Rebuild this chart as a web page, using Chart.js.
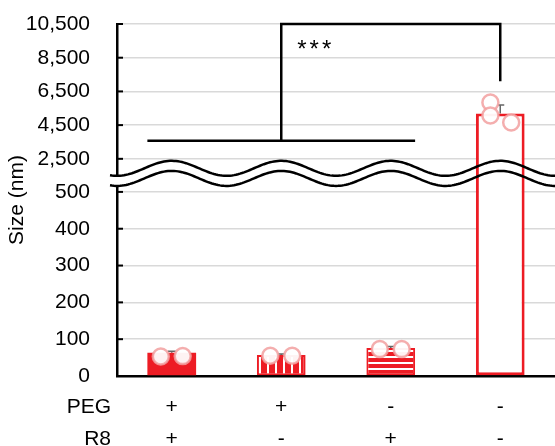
<!DOCTYPE html>
<html>
<head>
<meta charset="utf-8">
<script src="https://cdn.jsdelivr.net/npm/chart.js@4/dist/chart.umd.min.js"></script>
<style>
  html, body { margin: 0; padding: 0; background: #fff; }
  #wrap { width: 555px; height: 446px; }
</style>
</head>
<body>
<div id="wrap"><canvas id="sizeChart"></canvas></div>
<script>
// PEG / R8 combination for each group
const groups = [['+', '+'], ['+', '-'], ['-', '+'], ['-', '-']];
const rowNames = ['PEG', 'R8'];
const meanSize = [63, 57, 76, 5190];
const sdSize = [4, 3, 4, 500];
const replicates = [[53, 54], [55, 55], [73, 73], [5840, 5070, 4650]];
const lowTicks = [0, 100, 200, 300, 400, 500];
const highTicks = [2500, 4500, 6500, 8500, 10500];
const stars = '***';

const FONT = '"Liberation Sans", Arial, sans-serif';
const RED = '#ed1c24';
const PINK = 'rgba(242,160,160,0.85)';
const X_PAD = 15;
const ROW_H = 32;

// y axis with a break between 500 and 2500
const BREAK_LOW = 500, BREAK_HIGH = 2500, TOP = 10500;
const share = [0.523, 0.094, 0.383]; // low part, gap, high part

class BrokenScale extends Chart.LinearScale {
  static id = 'broken';
  static defaults = Chart.LinearScale.defaults;
  buildTicks() {
    return lowTicks.concat(highTicks).map(v => ({ value: v }));
  }
  toDecimal(v) {
    if (v <= BREAK_LOW) return v / BREAK_LOW * share[0];
    if (v <= BREAK_HIGH) return share[0] + (v - BREAK_LOW) / (BREAK_HIGH - BREAK_LOW) * share[1];
    return share[0] + share[1] + (v - BREAK_HIGH) / (TOP - BREAK_HIGH) * share[2];
  }
  getPixelForValue(v) {
    if (v === null || v === undefined || isNaN(v)) return NaN;
    return this.getPixelForDecimal(this.toDecimal(v));
  }
  getValueForPixel(p) {
    const d = this.getDecimalForPixel(p);
    if (d <= share[0]) return d / share[0] * BREAK_LOW;
    if (d <= share[0] + share[1]) return BREAK_LOW + (d - share[0]) / share[1] * (BREAK_HIGH - BREAK_LOW);
    return BREAK_HIGH + (d - share[0] - share[1]) / share[2] * (TOP - BREAK_HIGH);
  }
}
Chart.register(BrokenScale);

function stripes(vertical) {
  const c = document.createElement('canvas');
  c.width = vertical ? 8 : 1;
  c.height = vertical ? 1 : 6;
  const g = c.getContext('2d');
  g.fillStyle = RED;
  g.fillRect(0, 0, c.width, c.height);
  g.fillStyle = '#fff';
  if (vertical) g.fillRect(3, 0, 2, 1); else g.fillRect(0, 2, 1, 2);
  return g.createPattern(c, 'repeat');
}

const jitter = { 2: [-0.1, 0.1], 3: [-0.09, -0.09, 0.1] };
const dots = [];
replicates.forEach((vals, i) => {
  vals.forEach((v, j) => dots.push({ x: i + jitter[vals.length][j], y: v }));
});

function waves(chart) {
  const a = chart.chartArea, y = chart.scales.y, x = chart.scales.x;
  const yHi = y.getPixelForValue(BREAK_HIGH), yLo = y.getPixelForValue(BREAK_LOW);
  const period = x.getPixelForValue(1) - x.getPixelForValue(0);
  const x0 = x.getPixelForValue(0);
  const upper = [], lower = [];
  for (let px = a.left - 7; px <= a.right + 1; px += 2) {
    const s = -Math.cos((px - x0) / period * 2 * Math.PI) * 7.5;
    upper.push([px, yHi + 9.5 + s]);
    lower.push([px, yLo - 13.5 + s]);
  }
  return { upper, lower };
}

const extras = {
  id: 'extras',
  beforeDatasetsDraw(chart) {
    const { ctx, chartArea: a } = chart;
    const y = chart.scales.y, x = chart.scales.x;
    ctx.save();
    // inner tick marks
    ctx.strokeStyle = '#000';
    ctx.lineWidth = 2;
    y.ticks.forEach(t => {
      const py = y.getPixelForValue(t.value);
      ctx.beginPath(); ctx.moveTo(a.left, py); ctx.lineTo(a.left + 6, py); ctx.stroke();
    });
    // error bars
    ctx.strokeStyle = '#666';
    ctx.lineWidth = 1.5;
    meanSize.forEach((m, i) => {
      const px = x.getPixelForValue(i);
      const p0 = y.getPixelForValue(m), p1 = y.getPixelForValue(m + sdSize[i]);
      ctx.beginPath();
      ctx.moveTo(px, p0); ctx.lineTo(px, p1);
      ctx.moveTo(px - 4, p1); ctx.lineTo(px + 4, p1);
      ctx.stroke();
    });
    // white band of the break
    const w = waves(chart);
    ctx.fillStyle = '#fff';
    ctx.beginPath();
    w.upper.forEach((p, k) => k ? ctx.lineTo(p[0], p[1]) : ctx.moveTo(p[0], p[1]));
    w.lower.slice().reverse().forEach(p => ctx.lineTo(p[0], p[1]));
    ctx.closePath();
    ctx.fill();
    ctx.restore();
  },
  afterDatasetsDraw(chart) {
    const { ctx } = chart;
    const w = waves(chart);
    ctx.save();
    ctx.strokeStyle = '#000';
    ctx.lineWidth = 2.5;
    [w.upper, w.lower].forEach(line => {
      ctx.beginPath();
      line.forEach((p, k) => k ? ctx.lineTo(p[0], p[1]) : ctx.moveTo(p[0], p[1]));
      ctx.stroke();
    });
    ctx.restore();
  },
  afterDraw(chart) {
    const { ctx } = chart;
    const y = chart.scales.y, x = chart.scales.x;
    const half = chart.getDatasetMeta(0).data[0].width / 2;
    const low = y.getPixelForValue(3575), top = y.getPixelForValue(10500), end = y.getPixelForValue(7100);
    ctx.save();
    ctx.strokeStyle = '#000';
    ctx.lineWidth = 2.5;
    ctx.beginPath();
    ctx.moveTo(x.getPixelForValue(0) - half, low);
    ctx.lineTo(x.getPixelForValue(2) + half, low);
    ctx.moveTo(x.getPixelForValue(1), low);
    ctx.lineTo(x.getPixelForValue(1), top);
    ctx.lineTo(x.getPixelForValue(3), top);
    ctx.lineTo(x.getPixelForValue(3), end);
    ctx.stroke();
    ctx.fillStyle = '#000';
    ctx.font = '24px ' + FONT;
    ctx.letterSpacing = '3px';
    ctx.textBaseline = 'alphabetic';
    ctx.fillText(stars, x.getPixelForValue(1) + 16, y.getPixelForValue(8530));
    // row names under the axis
    ctx.letterSpacing = '0px';
    ctx.font = '21px ' + FONT;
    ctx.textAlign = 'right';
    ctx.textBaseline = 'middle';
    rowNames.forEach((n, i) => ctx.fillText(n, 111, x.top + X_PAD + ROW_H * (i + 0.5)));
    ctx.restore();
  }
};

new Chart(document.getElementById('sizeChart'), {
  type: 'bar',
  data: {
    labels: groups,
    datasets: [{
      data: meanSize,
      xAxisID: 'x',
      yAxisID: 'y',
      order: 2,
      grouped: false,
      backgroundColor: [RED, stripes(true), stripes(false), '#fff'],
      borderColor: RED,
      borderWidth: [0, 2, 2, 3],
      borderSkipped: false,
      categoryPercentage: 1,
      barPercentage: 0.445
    }, {
      type: 'scatter',
      data: dots,
      xAxisID: 'xDots',
      yAxisID: 'y',
      order: 1,
      pointRadius: 8,
      pointBorderWidth: 2.5,
      pointBackgroundColor: 'rgba(255,255,255,0.95)',
      pointBorderColor: PINK
    }]
  },
  options: {
    responsive: true,
    maintainAspectRatio: false,
    animation: false,
    layout: { autoPadding: false, padding: { top: 24, right: 0, bottom: -24, left: 0 } },
    plugins: { legend: { display: false }, tooltip: { enabled: false } },
    scales: {
      x: {
        type: 'category',
        grid: { display: false, drawTicks: false },
        border: { display: true, color: '#000', width: 2.5 },
        ticks: {
          color: '#000', padding: X_PAD, maxRotation: 0, autoSkip: false,
          font: { family: FONT, size: 21, lineHeight: ROW_H + 'px' }
        }
      },
      xDots: {
        type: 'linear', position: 'bottom', min: -0.5, max: 3.5, offset: false, display: false,
        grid: { display: false, drawTicks: false }, ticks: { display: false }
      },
      y: {
        type: 'broken',
        min: 0,
        max: TOP,
        grid: { color: '#d9d9d9', lineWidth: 1.5, drawTicks: false },
        border: { color: '#000', width: 2.5 },
        ticks: {
          color: '#000', padding: 27, autoSkip: false,
          font: { family: FONT, size: 21 },
          callback: v => v.toLocaleString('en-US')
        },
        title: {
          display: true, text: 'Size (nm)', color: '#000',
          font: { family: FONT, size: 21 },
          padding: { top: 5, bottom: 0 }
        },
        afterFit: s => { s.width = 117; s.paddingTop = 0; s.paddingBottom = 0; }
      }
    }
  },
  plugins: [extras]
});
</script>
</body>
</html>
